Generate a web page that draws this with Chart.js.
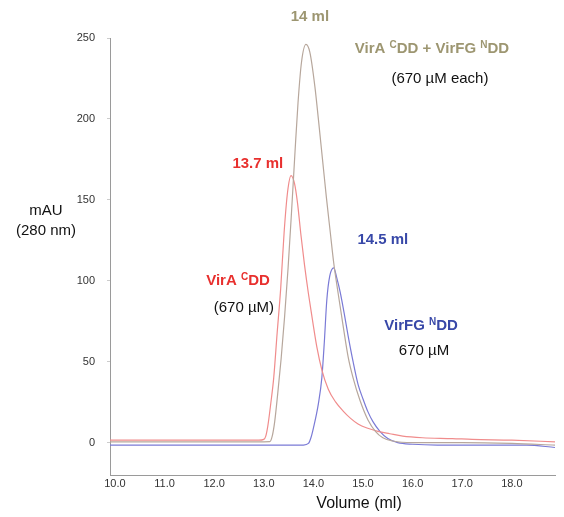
<!DOCTYPE html>
<html>
<head>
<meta charset="utf-8">
<script src="https://cdn.jsdelivr.net/npm/chart.js@4.4.0/dist/chart.umd.min.js"></script>
<style>
  body { margin: 0; background: #fff; }
  #wrap { width: 564px; height: 517px; }
</style>
</head>
<body>
<div id="wrap"><canvas id="secChart" width="564" height="517"></canvas></div>
<script>
// elution volume (ml) and absorbance (mAU at 280 nm) for each run
const complexVolume = [9.9, 11.0, 12.0, 13.0, 13.12, 13.17, 13.22, 13.28, 13.35, 13.42, 13.49, 13.56, 13.63, 13.69, 13.76, 13.85, 13.93, 14.03, 14.1, 14.19, 14.26, 14.34, 14.41, 14.5, 14.6, 14.7, 14.8, 14.94, 15.1, 15.25, 15.4, 15.6, 16.0, 17.0, 18.0, 18.87];
const complexMAU = [0.5, 0.5, 0.5, 0.5, 0.6, 4, 13, 30, 52, 78, 108, 143, 180, 210, 235, 246, 241, 220, 200, 173, 152, 130, 111, 92, 72, 53, 40, 26, 14, 7, 3, 1, 0, 0, -0.5, -1.5];

const viraVolume = [9.9, 11.0, 12.0, 12.9, 13.0, 13.04, 13.08, 13.14, 13.2, 13.27, 13.34, 13.41, 13.48, 13.55, 13.62, 13.68, 13.75, 13.82, 13.9, 13.98, 14.07, 14.17, 14.3, 14.45, 14.6, 14.75, 14.9, 15.08, 15.3, 15.54, 15.8, 16.2, 16.8, 17.2, 18.0, 18.87];
const viraMAU = [1.5, 1.5, 1.5, 1.5, 2, 4, 10, 24, 40, 68, 95, 130, 155, 165, 160, 148, 128, 110, 92, 76, 59, 45, 33, 25, 19.5, 15, 11.5, 9, 7, 5.5, 4, 3, 2.5, 2, 1.5, 0.5];

const virfgVolume = [9.9, 11.0, 12.0, 13.0, 13.8, 13.9, 13.95, 14.0, 14.1, 14.17, 14.22, 14.27, 14.33, 14.41, 14.47, 14.54, 14.62, 14.7, 14.8, 14.9, 15.0, 15.1, 15.2, 15.34, 15.5, 15.7, 16.0, 16.5, 17.5, 18.3, 18.87];
const virfgMAU = [-1.5, -1.5, -1.5, -1.5, -1.5, -0.5, 3, 9, 24, 40, 62, 88, 103, 108, 102, 93, 80, 66, 50, 36, 27, 19, 13, 7, 2.5, 0, -1, -1.5, -1.5, -1.5, -3];

const xTickValues = [10, 11, 12, 13, 14, 15, 16, 17, 18];
const yTickValues = [0, 50, 100, 150, 200, 250];

// text labels on the plot, placed in data units; ^X^ marks a superscript
const notes = [
    { text: '14 ml', v: 13.93, mau: 263, color: '#9d9671', bold: true },
    { text: 'VirA ^C^DD + VirFG ^N^DD', v: 16.39, mau: 243, color: '#9d9671', bold: true },
    { text: '(670 \u00b5M each)', v: 16.55, mau: 225, color: '#111', bold: false },
    { text: '13.7 ml', v: 12.88, mau: 172, color: '#e8302e', bold: true },
    { text: '14.5 ml', v: 15.40, mau: 125, color: '#3848a8', bold: true },
    { text: 'VirA ^C^DD', v: 12.48, mau: 100, color: '#e8302e', bold: true },
    { text: '(670 \u00b5M)', v: 12.60, mau: 83, color: '#111', bold: false },
    { text: 'VirFG ^N^DD', v: 16.17, mau: 72, color: '#3848a8', bold: true },
    { text: '670 \u00b5M', v: 16.23, mau: 56.5, color: '#111', bold: false }
];

const FONT = "'Liberation Sans', Arial, sans-serif";

function toPoints(xs, ys) {
    return xs.map((x, i) => ({ x: x, y: ys[i] }));
}

// draw a label centred on (cx, cy), with small raised letters between ^ marks
function drawNote(ctx, text, cx, cy, bold, color) {
    const parts = text.split('^');
    const weight = bold ? 'bold ' : '';
    const big = weight + '15px ' + FONT;
    const small = weight + '10px ' + FONT;
    let total = 0;
    parts.forEach((p, i) => {
        ctx.font = i % 2 ? small : big;
        total += ctx.measureText(p).width;
    });
    let x = cx - total / 2;
    ctx.fillStyle = color;
    ctx.textAlign = 'left';
    ctx.textBaseline = 'middle';
    parts.forEach((p, i) => {
        ctx.font = i % 2 ? small : big;
        ctx.fillText(p, x, i % 2 ? cy - 4 : cy);
        x += ctx.measureText(p).width;
    });
}

const notesPlugin = {
    id: 'notes',
    afterDraw(chart) {
        const ctx = chart.ctx;
        const xs = chart.scales.x;
        const ys = chart.scales.y;
        ctx.save();
        notes.forEach(n => {
            drawNote(ctx, n.text, xs.getPixelForValue(n.v), ys.getPixelForValue(n.mau), n.bold, n.color);
        });
        // axis titles
        ctx.fillStyle = '#111';
        ctx.font = '15px ' + FONT;
        ctx.textAlign = 'center';
        ctx.textBaseline = 'middle';
        const left = chart.chartArea.left - 64;
        ctx.fillText('mAU', left, ys.getPixelForValue(143));
        ctx.fillText('(280 nm)', left, ys.getPixelForValue(131));
        ctx.font = '16px ' + FONT;
        ctx.fillText('Volume (ml)', xs.getPixelForValue(14.92), chart.chartArea.bottom + 29);
        ctx.restore();
    }
};

const ctx = document.getElementById('secChart').getContext('2d');
const chart = new Chart(ctx, {
    type: 'line',
    data: {
        datasets: [
            {
                label: 'VirA CDD + VirFG NDD',
                data: toPoints(complexVolume, complexMAU),
                borderColor: '#b7a79c',
                borderWidth: 1.2
            },
            {
                label: 'VirA CDD',
                data: toPoints(viraVolume, viraMAU),
                borderColor: '#f08c8c',
                borderWidth: 1.2
            },
            {
                label: 'VirFG NDD',
                data: toPoints(virfgVolume, virfgMAU),
                borderColor: '#7a7ad6',
                borderWidth: 1.2
            }
        ]
    },
    options: {
        responsive: false,
        animation: false,
        layout: { padding: { top: 38, right: 9, left: 0, bottom: 0 } },
        elements: {
            point: { radius: 0 },
            line: { cubicInterpolationMode: 'monotone', fill: false }
        },
        plugins: {
            legend: { display: false },
            tooltip: { enabled: false }
        },
        scales: {
            x: {
                type: 'linear',
                min: 9.9,
                max: 18.87,
                afterBuildTicks: axis => { axis.ticks = xTickValues.map(v => ({ value: v })); },
                afterFit: axis => { axis.height = 42; },
                grid: { display: false, drawTicks: false, tickLength: 0 },
                border: { color: '#9a9a9a', width: 1 },
                ticks: {
                    padding: 2,
                    color: '#333',
                    font: { family: FONT, size: 11 },
                    callback: v => v.toFixed(1)
                }
            },
            y: {
                min: -20,
                max: 250,
                afterBuildTicks: axis => { axis.ticks = yTickValues.map(v => ({ value: v })); },
                afterFit: axis => { axis.width = 110; },
                grid: { drawOnChartArea: false, drawTicks: true, tickLength: 3, color: '#cccccc' },
                border: { color: '#9a9a9a', width: 1 },
                ticks: {
                    padding: 12,
                    color: '#333',
                    font: { family: FONT, size: 11 }
                }
            }
        }
    },
    plugins: [notesPlugin]
});
</script>
</body>
</html>
